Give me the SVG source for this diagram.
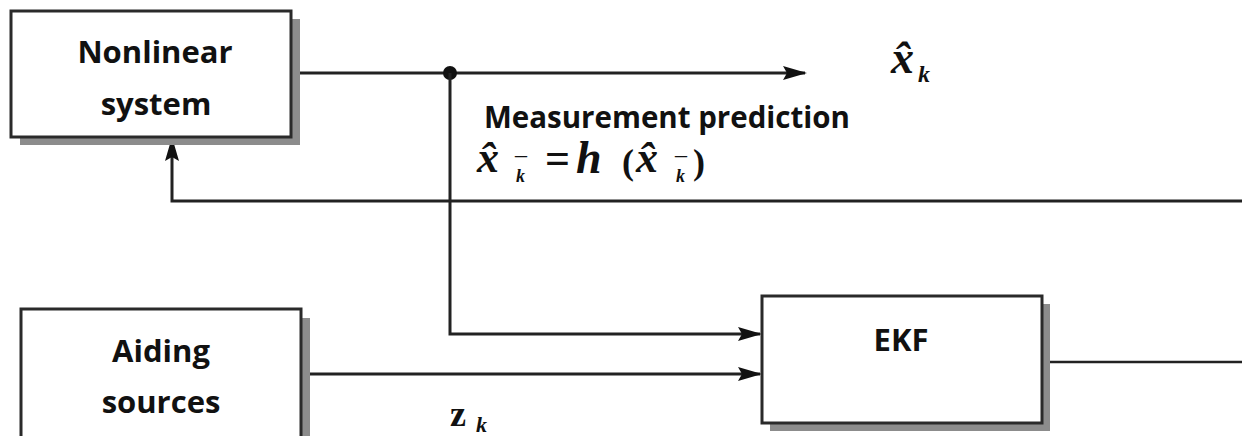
<svg xmlns="http://www.w3.org/2000/svg" width="1242" height="436" viewBox="0 0 1242 436">
<style>
.box{fill:#fff;stroke:#2a2a2a;stroke-width:3}
.shadow{fill:#8c8c8c}
.lbl{font-family:"Open Sans","Liberation Sans",sans-serif;font-weight:bold;font-size:31px;fill:#111;text-anchor:middle}
.ln{fill:none;stroke:#222;stroke-width:3}
.math{font-family:"Liberation Serif","DejaVu Serif",serif;font-weight:bold;font-style:italic;fill:#111}
.up{font-style:normal}
</style>
<defs>
<marker id="ah" viewBox="0 0 24 16" refX="22" refY="8" markerWidth="24" markerHeight="16" markerUnits="userSpaceOnUse" orient="auto">
<path d="M0,1 L24,8 L0,15 L4,8 Z" fill="#111"/>
</marker>
</defs>
<rect width="1242" height="436" fill="#fff"/>
<g id="connectors">
<path class="ln" d="M291,73 H805" marker-end="url(#ah)"/>
<circle cx="450" cy="73" r="7" fill="#111"/>
<path class="ln" d="M450,73 V334 H760" marker-end="url(#ah)"/>
<path class="ln" d="M301,374 H760" marker-end="url(#ah)"/>
<path class="ln" d="M1242,201 H172 V139" marker-end="url(#ah)"/>
<path class="ln" d="M1050,362 H1242" style="stroke-width:2.5"/>
</g>
<g id="nonlinear">
<rect class="shadow" x="20" y="19" width="280" height="126"/>
<rect class="box" x="11" y="11" width="280" height="126"/>
<text class="lbl" x="155" y="63">Nonlinear</text>
<text class="lbl" x="156" y="115">system</text>
</g>
<g id="aiding">
<rect class="shadow" x="30" y="318" width="280" height="130"/>
<rect class="box" x="21" y="309" width="280" height="140"/>
<text class="lbl" x="161" y="362">Aiding</text>
<text class="lbl" x="161" y="413">sources</text>
</g>
<g id="ekf">
<rect class="shadow" x="770" y="304" width="280" height="127"/>
<rect class="box" x="762" y="296" width="280" height="127"/>
<text class="lbl" x="901" y="351">EKF</text>
</g>
<g id="labels">
<text class="math" x="891" y="73" font-size="46">x̂</text>
<text class="math" x="918" y="82" font-size="24">k</text>
<text x="484" y="128" font-family="'Open Sans','Liberation Sans',sans-serif" font-weight="bold" font-size="29.5" fill="#111">Measurement prediction</text>
<text class="math" x="477" y="172" font-size="44">x̂</text>
<text class="math up" x="515" y="161" font-size="18" textLength="12" lengthAdjust="spacingAndGlyphs">–</text>
<text class="math" x="516" y="182" font-size="18">k</text>
<text class="math up" x="545" y="173" font-size="44">=</text>
<text class="math" x="576" y="173" font-size="46">h</text>
<text class="math up" x="622" y="174" font-size="36">(</text>
<text class="math" x="636" y="172" font-size="44">x̂</text>
<text class="math up" x="675" y="161" font-size="18" textLength="12" lengthAdjust="spacingAndGlyphs">–</text>
<text class="math" x="676" y="182" font-size="18">k</text>
<text class="math up" x="693" y="174" font-size="36">)</text>
<text class="math up" x="450" y="426" font-size="36">z</text>
<text class="math" x="476" y="432" font-size="22">k</text>
</g>
</svg>
